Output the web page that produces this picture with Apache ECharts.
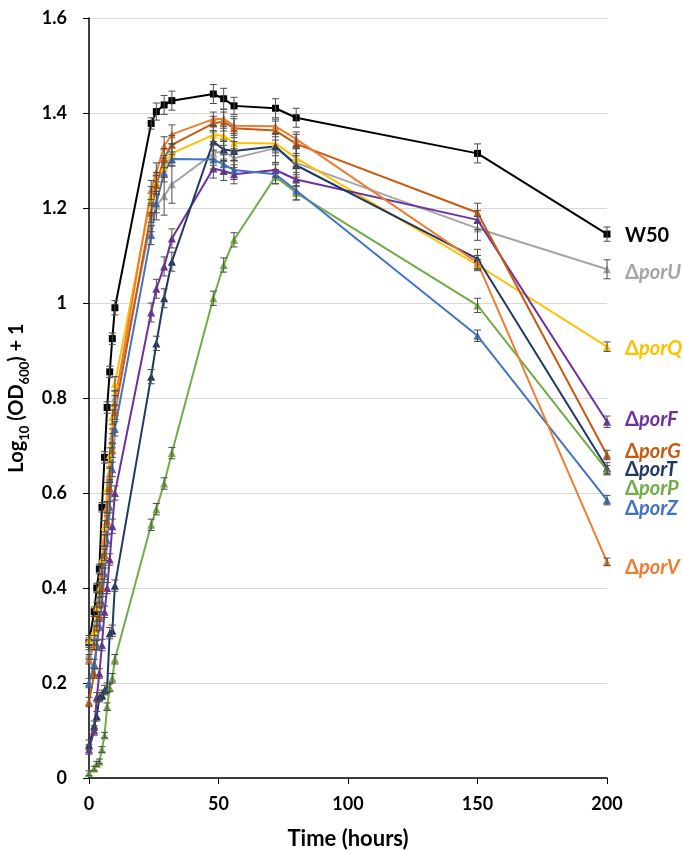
<!DOCTYPE html>
<html>
<head>
<meta charset="utf-8">
<script src="https://cdn.jsdelivr.net/npm/echarts@6/dist/echarts.min.js"></script>
<style>
html, body { margin: 0; padding: 0; background: #fff; }
#chart { width: 683px; height: 850px; }
</style>
</head>
<body>
<div id="chart"></div>
<script>
// sampling times (hours)
var hours = [0, 2, 3, 4, 5, 6, 7, 8, 9, 10, 24, 26, 29, 32, 48, 52, 56, 72, 80, 150, 200];

// Log10(OD600) + 1 for each strain
var w50  = [0.285, 0.35, 0.40, 0.44, 0.57, 0.675, 0.78, 0.855, 0.925, 0.99, 1.378, 1.403, 1.417, 1.426, 1.44, 1.43, 1.415, 1.41, 1.39, 1.315, 1.145];
var porU = [0.26, 0.29, 0.33, 0.38, 0.44, 0.50, 0.57, 0.64, 0.72, 0.80, 1.17, 1.205, 1.225, 1.25, 1.315, 1.32, 1.305, 1.326, 1.295, 1.157, 1.071];
var porQ = [0.29, 0.31, 0.36, 0.40, 0.46, 0.53, 0.61, 0.68, 0.76, 0.83, 1.225, 1.255, 1.285, 1.315, 1.354, 1.352, 1.337, 1.336, 1.305, 1.08, 0.908];
var porF = [0.06, 0.10, 0.17, 0.22, 0.28, 0.35, 0.40, 0.46, 0.53, 0.60, 0.98, 1.03, 1.077, 1.136, 1.283, 1.278, 1.271, 1.28, 1.26, 1.175, 0.75];
var porG = [0.16, 0.22, 0.28, 0.34, 0.40, 0.47, 0.54, 0.61, 0.69, 0.77, 1.19, 1.248, 1.305, 1.333, 1.378, 1.382, 1.368, 1.363, 1.335, 1.19, 0.68];
var porT = [0.07, 0.11, 0.13, 0.17, 0.175, 0.185, 0.19, 0.305, 0.31, 0.405, 0.845, 0.915, 1.01, 1.087, 1.34, 1.323, 1.32, 1.33, 1.29, 1.093, 0.652];
var porP = [0.01, 0.02, 0.03, 0.035, 0.06, 0.09, 0.15, 0.19, 0.21, 0.25, 0.533, 0.566, 0.62, 0.684, 1.01, 1.08, 1.133, 1.266, 1.232, 0.995, 0.648];
var porZ = [0.20, 0.24, 0.28, 0.32, 0.37, 0.43, 0.50, 0.57, 0.65, 0.735, 1.143, 1.21, 1.275, 1.303, 1.302, 1.292, 1.28, 1.271, 1.237, 0.931, 0.585];
var porV = [0.25, 0.28, 0.32, 0.37, 0.43, 0.50, 0.57, 0.64, 0.71, 0.79, 1.238, 1.275, 1.33, 1.355, 1.387, 1.388, 1.373, 1.372, 1.345, 1.085, 0.455];

// error bar half-widths
var w50Err  = [0.01, 0.01, 0.01, 0.01, 0.01, 0.012, 0.012, 0.012, 0.012, 0.015, 0.012, 0.018, 0.02, 0.02, 0.02, 0.022, 0.018, 0.02, 0.02, 0.02, 0.015];
var porUErr = [0.01, 0.01, 0.01, 0.012, 0.012, 0.012, 0.012, 0.015, 0.015, 0.015, 0.02, 0.03, 0.04, 0.04, 0.025, 0.02, 0.02, 0.03, 0.03, 0.025, 0.02];
var porQErr = [0.01, 0.01, 0.01, 0.012, 0.012, 0.012, 0.012, 0.015, 0.015, 0.015, 0.02, 0.02, 0.02, 0.02, 0.02, 0.02, 0.02, 0.02, 0.02, 0.012, 0.01];
var porFErr = [0.01, 0.01, 0.01, 0.01, 0.012, 0.012, 0.012, 0.012, 0.015, 0.015, 0.02, 0.02, 0.02, 0.02, 0.02, 0.02, 0.02, 0.015, 0.015, 0.02, 0.012];
var porGErr = [0.01, 0.01, 0.01, 0.01, 0.012, 0.012, 0.012, 0.012, 0.015, 0.015, 0.02, 0.02, 0.02, 0.02, 0.015, 0.02, 0.02, 0.02, 0.02, 0.02, 0.01];
var porTErr = [0.01, 0.01, 0.01, 0.01, 0.01, 0.01, 0.01, 0.012, 0.012, 0.012, 0.015, 0.015, 0.02, 0.02, 0.02, 0.02, 0.02, 0.02, 0.02, 0.02, 0.012];
var porPErr = [0.005, 0.005, 0.005, 0.005, 0.006, 0.006, 0.008, 0.008, 0.01, 0.01, 0.012, 0.012, 0.012, 0.012, 0.015, 0.015, 0.015, 0.015, 0.015, 0.015, 0.01];
var porZErr = [0.01, 0.01, 0.01, 0.01, 0.012, 0.012, 0.012, 0.012, 0.015, 0.015, 0.02, 0.02, 0.02, 0.015, 0.02, 0.02, 0.02, 0.02, 0.02, 0.012, 0.01];
var porVErr = [0.01, 0.01, 0.01, 0.01, 0.012, 0.012, 0.012, 0.012, 0.015, 0.015, 0.02, 0.02, 0.02, 0.02, 0.015, 0.02, 0.02, 0.015, 0.015, 0.015, 0.008];

var yTicks = [0, 0.2, 0.4, 0.6, 0.8, 1, 1.2, 1.4, 1.6];
var xTicks = [0, 50, 100, 150, 200];

var strains = [
    { name: 'W50',  gene: '',     color: '#000000', symbol: 'rect',     data: w50,  err: w50Err,  dy: 1 },
    { name: 'ΔporU', gene: 'porU', color: '#A5A5A5', symbol: 'triangle', data: porU, err: porUErr, dy: 3 },
    { name: 'ΔporQ', gene: 'porQ', color: '#FFC000', symbol: 'triangle', data: porQ, err: porQErr, dy: 2 },
    { name: 'ΔporF', gene: 'porF', color: '#7030A0', symbol: 'triangle', data: porF, err: porFErr, dy: -2 },
    { name: 'ΔporG', gene: 'porG', color: '#C55A11', symbol: 'triangle', data: porG, err: porGErr, dy: -3 },
    { name: 'ΔporT', gene: 'porT', color: '#203864', symbol: 'triangle', data: porT, err: porTErr, dy: 1 },
    { name: 'ΔporP', gene: 'porP', color: '#70AD47', symbol: 'triangle', data: porP, err: porPErr, dy: 18 },
    { name: 'ΔporZ', gene: 'porZ', color: '#4472C4', symbol: 'triangle', data: porZ, err: porZErr, dy: 8 },
    { name: 'ΔporV', gene: 'porV', color: '#ED7D31', symbol: 'triangle', data: porV, err: porVErr, dy: 6 }
];

var font = 'Lato, "Open Sans", sans-serif';

function renderErr(params, api) {
    var t = api.value(0);
    var lo = api.coord([t, api.value(1)]);
    var hi = api.coord([t, api.value(2)]);
    var w = 3.5;
    var st = { stroke: '#4d4d4d', lineWidth: 1 };
    return {
        type: 'group',
        children: [
            { type: 'line', shape: { x1: lo[0], y1: lo[1], x2: hi[0], y2: hi[1] }, style: st },
            { type: 'line', shape: { x1: lo[0] - w, y1: lo[1], x2: lo[0] + w, y2: lo[1] }, style: st },
            { type: 'line', shape: { x1: hi[0] - w, y1: hi[1], x2: hi[0] + w, y2: hi[1] }, style: st }
        ]
    };
}

var series = [];
var errData = [];
strains.forEach(function (s) {
    var pts = hours.map(function (t, i) { return [t, s.data[i]]; });
    hours.forEach(function (t, i) {
        errData.push([t, s.data[i] - s.err[i], s.data[i] + s.err[i]]);
    });
    series.push({
        name: s.name,
        type: 'line',
        data: pts,
        symbol: s.symbol,
        symbolSize: s.symbol === 'rect' ? 7 : 8,
        showAllSymbol: true,
        lineStyle: { color: s.color, width: 2 },
        itemStyle: { color: s.color },
        z: 3,
        endLabel: {
            show: true,
            distance: 18,
            offset: [0, s.dy],
            formatter: s.gene ? '{d|Δ}{g|' + s.gene + '}' : '{d|W50}',
            rich: {
                d: { fontFamily: font, fontWeight: 'bold', fontSize: 20, color: s.color },
                g: { fontFamily: font, fontWeight: 'bold', fontStyle: 'italic', fontSize: 20, color: s.color }
            }
        },
        emphasis: { disabled: true }
    });
});
series.push({
    type: 'custom',
    renderItem: renderErr,
    data: errData,
    encode: { x: 0, y: [1, 2] },
    z: 4,
    silent: true
});

var chart = echarts.init(document.getElementById('chart'));
chart.setOption({
    animation: false,
    grid: { left: 89, right: 76, top: 18, bottom: 72, outerBoundsMode: 'none' },
    xAxis: {
        type: 'value',
        min: xTicks[0],
        max: xTicks[xTicks.length - 1],
        interval: 50,
        name: 'Time (hours)',
        nameLocation: 'middle',
        nameGap: 50,
        nameTextStyle: { fontFamily: font, fontWeight: 'bold', fontSize: 22, color: '#000' },
        splitLine: { show: false },
        axisLine: { lineStyle: { color: '#000', width: 1.5 } },
        axisTick: { length: 6, lineStyle: { color: '#000' } },
        axisLabel: { margin: 17, fontFamily: font, fontWeight: 'bold', fontSize: 18, color: '#000' }
    },
    yAxis: {
        type: 'value',
        min: yTicks[0],
        max: yTicks[yTicks.length - 1],
        interval: 0.2,
        name: '{a|Log}{s|10}{a| (OD}{s|600}{a|) + 1}',
        nameLocation: 'middle',
        nameGap: 54,
        nameTextStyle: {
            rich: {
                a: { fontFamily: font, fontWeight: 'bold', fontSize: 20, color: '#000', lineHeight: 28 },
                s: { fontFamily: font, fontWeight: 'bold', fontSize: 13, color: '#000', verticalAlign: 'bottom', lineHeight: 15 }
            }
        },
        splitLine: { show: true, lineStyle: { color: '#D9D9D9', width: 1 } },
        axisLine: { show: true, lineStyle: { color: '#000', width: 1.5 } },
        axisTick: { show: true, length: 6, lineStyle: { color: '#000' } },
        axisLabel: { margin: 22, fontFamily: font, fontWeight: 'bold', fontSize: 18, color: '#000' }
    },
    series: series
});
</script>
</body>
</html>
